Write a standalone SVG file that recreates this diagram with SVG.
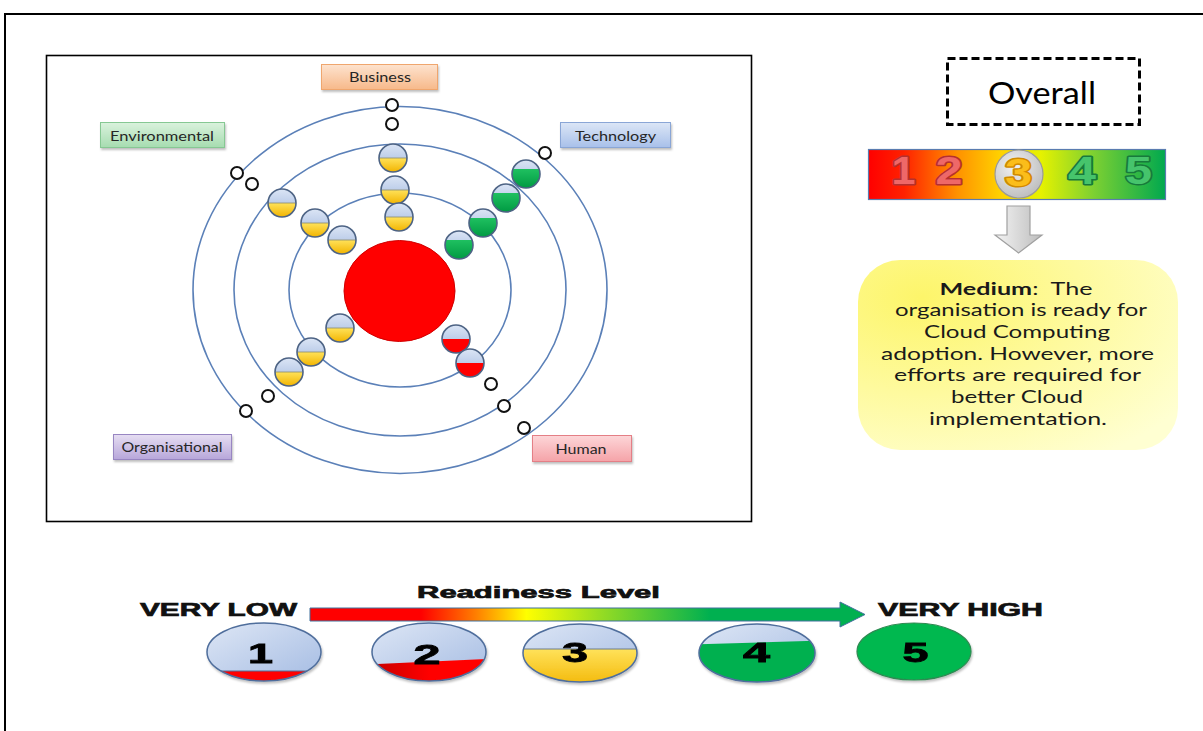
<svg xmlns="http://www.w3.org/2000/svg" xmlns:xlink="http://www.w3.org/1999/xlink" width="1203" height="731" viewBox="0 0 1203 731">
  <style>
    .lbl { font-family: Lato, "Liberation Sans", sans-serif; font-size: 14px; fill: #262626; text-anchor: middle; }
    .ring { fill: none; stroke: #5b80b8; stroke-width: 1.6; }
    .empty { fill: #ffffff; stroke: #111111; stroke-width: 2; }
    .note { font-family: Lato, "Liberation Sans", sans-serif; font-size: 17px; fill: #1a1a1a; text-anchor: middle; }
    .heavy { font-family: "Liberation Sans", Arial, sans-serif; font-weight: bold; fill: #111111; stroke: #111111; stroke-width: 0.7; }
    .digit { font-family: "Liberation Sans", Arial, sans-serif; font-weight: bold; text-anchor: middle; }
    .bar-digit { paint-order: stroke; stroke-width: 3; stroke-linejoin: round; }
    .num { fill: #000000; stroke: #000000; stroke-width: 0.8; }
    .legend-edge { stroke: #4f6e9c; stroke-width: 1.5; }
  </style>
  <defs>
    <linearGradient id="gBlue" x1="0" y1="0" x2="0" y2="1">
      <stop offset="0" stop-color="#dbe5f5"/>
      <stop offset="1" stop-color="#9fb6de"/>
    </linearGradient>
    <linearGradient id="gBlueWide" x1="0" y1="0" x2="1" y2="1">
      <stop offset="0" stop-color="#dde6f5"/>
      <stop offset="1" stop-color="#a5bce3"/>
    </linearGradient>
    <linearGradient id="gYellow" x1="0" y1="0" x2="0" y2="1">
      <stop offset="0" stop-color="#ffe25a"/>
      <stop offset="1" stop-color="#f2b400"/>
    </linearGradient>
    <linearGradient id="gGreen" x1="0" y1="0" x2="0" y2="1">
      <stop offset="0" stop-color="#1fc060"/>
      <stop offset="1" stop-color="#009a42"/>
    </linearGradient>
    <linearGradient id="gRed" x1="0" y1="0" x2="1" y2="0">
      <stop offset="0" stop-color="#c00000"/>
      <stop offset="0.5" stop-color="#ff0000"/>
      <stop offset="1" stop-color="#ff0000"/>
    </linearGradient>
    <linearGradient id="gBar" x1="0" y1="0" x2="1" y2="0">
      <stop offset="0" stop-color="#ff0000"/>
      <stop offset="0.12" stop-color="#ff2200"/>
      <stop offset="0.3" stop-color="#ff9200"/>
      <stop offset="0.45" stop-color="#ffd400"/>
      <stop offset="0.58" stop-color="#e6f200"/>
      <stop offset="0.76" stop-color="#7cd032"/>
      <stop offset="1" stop-color="#00a84f"/>
    </linearGradient>
    <linearGradient id="gScale" x1="0" y1="0" x2="1" y2="0">
      <stop offset="0" stop-color="#ff0000"/>
      <stop offset="0.2" stop-color="#ff0000"/>
      <stop offset="0.3" stop-color="#ff8000"/>
      <stop offset="0.39" stop-color="#ffff00"/>
      <stop offset="0.52" stop-color="#99dd22"/>
      <stop offset="0.72" stop-color="#00b050"/>
      <stop offset="1" stop-color="#00b050"/>
    </linearGradient>
    <linearGradient id="gArrow" x1="0" y1="0" x2="1" y2="0">
      <stop offset="0" stop-color="#f4f4f4"/>
      <stop offset="1" stop-color="#bdbdbd"/>
    </linearGradient>
    <radialGradient id="gGrey" cx="0.4" cy="0.35" r="0.7">
      <stop offset="0" stop-color="#f2f2f2"/>
      <stop offset="1" stop-color="#bcbcbc"/>
    </radialGradient>
    <radialGradient id="gNote" cx="0.2" cy="0.2" r="1">
      <stop offset="0" stop-color="#fdf56a"/>
      <stop offset="1" stop-color="#ffffd2"/>
    </radialGradient>
    <linearGradient id="gBiz" x1="0" y1="0" x2="0" y2="1">
      <stop offset="0" stop-color="#fde3cf"/>
      <stop offset="1" stop-color="#f7b98a"/>
    </linearGradient>
    <linearGradient id="gEnv" x1="0" y1="0" x2="0" y2="1">
      <stop offset="0" stop-color="#daf2dd"/>
      <stop offset="1" stop-color="#a6dcb0"/>
    </linearGradient>
    <linearGradient id="gTech" x1="0" y1="0" x2="0" y2="1">
      <stop offset="0" stop-color="#dce6f6"/>
      <stop offset="1" stop-color="#a8c0ea"/>
    </linearGradient>
    <linearGradient id="gOrg" x1="0" y1="0" x2="0" y2="1">
      <stop offset="0" stop-color="#e6def2"/>
      <stop offset="1" stop-color="#b7a6da"/>
    </linearGradient>
    <linearGradient id="gHum" x1="0" y1="0" x2="0" y2="1">
      <stop offset="0" stop-color="#fdd6d8"/>
      <stop offset="1" stop-color="#f5a3a8"/>
    </linearGradient>
    <filter id="shadow" x="-20%" y="-20%" width="140%" height="150%">
      <feDropShadow dx="1" dy="2" stdDeviation="1.2" flood-color="#000000" flood-opacity="0.25"/>
    </filter>

    <!-- orbit bubbles: blue glass top, coloured level at the bottom -->
    <g id="bub-yellow">
      <circle r="14" fill="url(#gBlue)"/>
      <path d="M-14,0 A14,14 0 0 0 14,0 Z" fill="url(#gYellow)"/>
      <line x1="-14" y1="0" x2="14" y2="0" stroke="#8a8a6a" stroke-width="0.8"/>
      <circle r="14" fill="none" stroke="#4d6384" stroke-width="1.6"/>
    </g>
    <g id="bub-green">
      <circle r="14" fill="url(#gBlue)"/>
      <path d="M-13.08,-5 A14,14 0 1 0 13.08,-5 Z" fill="url(#gGreen)"/>
      <circle r="14" fill="none" stroke="#4d6384" stroke-width="1.6"/>
    </g>
    <g id="bub-red">
      <circle r="14" fill="url(#gBlue)"/>
      <path d="M-14,0 A14,14 0 0 0 14,0 Z" fill="#ff0000"/>
      <circle r="14" fill="none" stroke="#4d6384" stroke-width="1.6"/>
    </g>

    <clipPath id="clip1"><ellipse cx="264" cy="652" rx="57" ry="29"/></clipPath>
    <clipPath id="clip2"><ellipse cx="429" cy="652" rx="57" ry="29"/></clipPath>
    <clipPath id="clip3"><ellipse cx="580" cy="653" rx="57" ry="29"/></clipPath>
    <clipPath id="clip4"><ellipse cx="757" cy="653" rx="58" ry="29"/></clipPath>
  </defs>

  <rect x="0" y="0" width="1203" height="731" fill="#ffffff"/>
  <!-- page frame -->
  <path d="M5,731 L5,14 L1203,14" fill="none" stroke="#000000" stroke-width="2"/>

  <!-- model panel -->
  <rect x="46.5" y="55.5" width="705" height="466" fill="#ffffff" stroke="#000000" stroke-width="1.6"/>

  <g id="orbits">
    <ellipse class="ring" cx="400" cy="290" rx="207" ry="183.5"/>
    <ellipse class="ring" cx="400" cy="290" rx="166" ry="146"/>
    <ellipse class="ring" cx="400" cy="290" rx="111" ry="97"/>
  </g>

  <g id="core">
    <ellipse cx="399.5" cy="291" rx="55.5" ry="50.5" fill="#ff0000" stroke="#d00000" stroke-width="1"/>
  </g>

  <g id="business">
    <rect x="321.5" y="64.5" width="116" height="25" fill="url(#gBiz)" stroke="#efa66e" stroke-width="1" filter="url(#shadow)"/>
    <text class="lbl" x="380" y="82" textLength="62" lengthAdjust="spacingAndGlyphs">Business</text>
    <circle class="empty" cx="392" cy="105" r="6"/>
    <circle class="empty" cx="392" cy="124" r="6"/>
    <use xlink:href="#bub-yellow" transform="translate(393,158)"/>
    <use xlink:href="#bub-yellow" transform="translate(395,190)"/>
    <use xlink:href="#bub-yellow" transform="translate(399,217)"/>
  </g>

  <g id="environmental">
    <rect x="100.5" y="122.5" width="124" height="25" fill="url(#gEnv)" stroke="#86c893" stroke-width="1" filter="url(#shadow)"/>
    <text class="lbl" x="162" y="141" textLength="104" lengthAdjust="spacingAndGlyphs">Environmental</text>
    <circle class="empty" cx="237" cy="173" r="6"/>
    <circle class="empty" cx="252" cy="184" r="6"/>
    <use xlink:href="#bub-yellow" transform="translate(282,203)"/>
    <use xlink:href="#bub-yellow" transform="translate(315,223)"/>
    <use xlink:href="#bub-yellow" transform="translate(342,240)"/>
  </g>

  <g id="technology">
    <rect x="560.5" y="122.5" width="110" height="25" fill="url(#gTech)" stroke="#8aa6d6" stroke-width="1" filter="url(#shadow)"/>
    <text class="lbl" x="615.5" y="141" textLength="81" lengthAdjust="spacingAndGlyphs">Technology</text>
    <circle class="empty" cx="545" cy="153" r="6"/>
    <use xlink:href="#bub-green" transform="translate(526,174)"/>
    <use xlink:href="#bub-green" transform="translate(506,198)"/>
    <use xlink:href="#bub-green" transform="translate(483,223)"/>
    <use xlink:href="#bub-green" transform="translate(459,245)"/>
  </g>

  <g id="organisational">
    <rect x="113.5" y="434.5" width="118" height="25" fill="url(#gOrg)" stroke="#9886c2" stroke-width="1" filter="url(#shadow)"/>
    <text class="lbl" x="172" y="452" textLength="101" lengthAdjust="spacingAndGlyphs">Organisational</text>
    <circle class="empty" cx="268" cy="396" r="6"/>
    <circle class="empty" cx="246" cy="411" r="6"/>
    <use xlink:href="#bub-yellow" transform="translate(340,328)"/>
    <use xlink:href="#bub-yellow" transform="translate(311,352)"/>
    <use xlink:href="#bub-yellow" transform="translate(289,372)"/>
  </g>

  <g id="human">
    <rect x="532.5" y="435.5" width="99" height="26" fill="url(#gHum)" stroke="#e47f86" stroke-width="1" filter="url(#shadow)"/>
    <text class="lbl" x="581" y="454" textLength="51" lengthAdjust="spacingAndGlyphs">Human</text>
    <circle class="empty" cx="491" cy="384" r="6"/>
    <circle class="empty" cx="504" cy="406" r="6"/>
    <circle class="empty" cx="524" cy="428" r="6"/>
    <use xlink:href="#bub-red" transform="translate(456,339)"/>
    <use xlink:href="#bub-red" transform="translate(470,363)"/>
  </g>

  <!-- overall result -->
  <g id="overall">
    <rect x="947.5" y="58.5" width="192" height="66" fill="#ffffff" stroke="#000000" stroke-width="3" stroke-dasharray="8,4"/>
    <text x="1042" y="104" font-family="Lato, 'Liberation Sans', sans-serif" font-size="31" fill="#000000" text-anchor="middle" textLength="108" lengthAdjust="spacingAndGlyphs">Overall</text>
  </g>

  <g id="overall-scale">
    <rect x="868.5" y="149.5" width="297" height="50" fill="url(#gBar)" stroke="#5a7cb0" stroke-width="1.2"/>
    <text class="digit bar-digit" x="903.5" y="184" font-size="38" fill="#ee6868" stroke="#b53030" textLength="24" lengthAdjust="spacingAndGlyphs">1</text>
    <text class="digit bar-digit" x="949" y="184" font-size="38" fill="#ee6868" stroke="#b53030" textLength="27" lengthAdjust="spacingAndGlyphs">2</text>
    <circle cx="1019" cy="174" r="24" fill="url(#gGrey)" stroke="#9a9a9a" stroke-width="1.2"/>
    <text class="digit bar-digit" x="1018.5" y="186" font-size="38" fill="#fbbd1a" stroke="#d08a00" textLength="27" lengthAdjust="spacingAndGlyphs">3</text>
    <text class="digit bar-digit" x="1082" y="184" font-size="38" fill="#46c46c" stroke="#177a3c" textLength="28" lengthAdjust="spacingAndGlyphs">4</text>
    <text class="digit bar-digit" x="1138.5" y="184" font-size="38" fill="#46c46c" stroke="#177a3c" textLength="27" lengthAdjust="spacingAndGlyphs">5</text>
  </g>

  <g id="overall-arrow">
    <polygon points="1007,206 1030,206 1030,235 1042,235 1018.5,253 995,235 1007,235" fill="url(#gArrow)" stroke="#a0a0a0" stroke-width="1.2"/>
  </g>

  <g id="overall-note">
    <rect x="858" y="260" width="320" height="190" rx="42" ry="42" fill="url(#gNote)"/>
    <text class="note" x="1016" y="295" textLength="153" lengthAdjust="spacingAndGlyphs" xml:space="preserve"><tspan font-weight="bold">Medium</tspan>:  The</text>
    <text class="note" x="1021" y="316" textLength="252" lengthAdjust="spacingAndGlyphs">organisation is ready for</text>
    <text class="note" x="1017" y="338" textLength="186" lengthAdjust="spacingAndGlyphs">Cloud Computing</text>
    <text class="note" x="1017.5" y="360" textLength="273" lengthAdjust="spacingAndGlyphs">adoption. However, more</text>
    <text class="note" x="1017.5" y="381" textLength="247" lengthAdjust="spacingAndGlyphs">efforts are required for</text>
    <text class="note" x="1017" y="403" textLength="132" lengthAdjust="spacingAndGlyphs">better Cloud</text>
    <text class="note" x="1018" y="425" textLength="178" lengthAdjust="spacingAndGlyphs">implementation.</text>
  </g>

  <!-- readiness legend -->
  <g id="legend-scale">
    <text class="heavy" x="417" y="598" font-size="17" textLength="243" lengthAdjust="spacingAndGlyphs">Readiness Level</text>
    <text class="heavy" x="140" y="616" font-size="18" textLength="157" lengthAdjust="spacingAndGlyphs">VERY LOW</text>
    <text class="heavy" x="878" y="616" font-size="18" textLength="165" lengthAdjust="spacingAndGlyphs">VERY HIGH</text>
    <polygon points="310,608 840,608 840,602 865,614.5 840,627 840,621 310,621" fill="url(#gScale)" stroke="#41719c" stroke-width="1"/>
  </g>

  <g id="level-1" filter="url(#shadow)">
    <ellipse cx="264" cy="652" rx="57" ry="29" fill="url(#gBlueWide)"/>
    <g clip-path="url(#clip1)">
      <rect x="200" y="671" width="130" height="20" fill="#ff0000"/>
      <line x1="200" y1="671" x2="330" y2="671" stroke="#4f6e9c" stroke-width="1"/>
    </g>
    <ellipse class="legend-edge" cx="264" cy="652" rx="57" ry="29" fill="none"/>
    <text class="digit num" x="260.5" y="663" font-size="27" textLength="25" lengthAdjust="spacingAndGlyphs">1</text>
  </g>

  <g id="level-2" filter="url(#shadow)">
    <ellipse cx="429" cy="652" rx="57" ry="29" fill="url(#gBlueWide)"/>
    <polygon points="365,664.5 495,658.5 495,690 365,690" fill="url(#gRed)" clip-path="url(#clip2)"/>
    <ellipse class="legend-edge" cx="429" cy="652" rx="57" ry="29" fill="none"/>
    <text class="digit num" x="427" y="664" font-size="27" textLength="27" lengthAdjust="spacingAndGlyphs">2</text>
  </g>

  <g id="level-3" filter="url(#shadow)">
    <ellipse cx="580" cy="653" rx="57" ry="29" fill="url(#gBlueWide)"/>
    <g clip-path="url(#clip3)">
      <rect x="515" y="649" width="130" height="40" fill="url(#gYellow)"/>
      <line x1="515" y1="649" x2="645" y2="649" stroke="#6d7c8c" stroke-width="1"/>
    </g>
    <ellipse class="legend-edge" cx="580" cy="653" rx="57" ry="29" fill="none"/>
    <text class="digit num" x="575" y="662" font-size="27" textLength="26" lengthAdjust="spacingAndGlyphs">3</text>
  </g>

  <g id="level-4" filter="url(#shadow)">
    <ellipse cx="757" cy="653" rx="58" ry="29" fill="url(#gBlueWide)"/>
    <polygon points="690,644.5 825,640.5 825,690 690,690" fill="#00b050" clip-path="url(#clip4)"/>
    <ellipse class="legend-edge" cx="757" cy="653" rx="58" ry="29" fill="none"/>
    <text class="digit num" x="756.5" y="662" font-size="27" textLength="27" lengthAdjust="spacingAndGlyphs">4</text>
  </g>

  <g id="level-5" filter="url(#shadow)">
    <ellipse cx="914" cy="651.5" rx="57" ry="28.5" fill="#00b84f" stroke="#2f8a52" stroke-width="1.2"/>
    <text class="digit num" x="915.5" y="662" font-size="27" textLength="26" lengthAdjust="spacingAndGlyphs">5</text>
  </g>
</svg>
